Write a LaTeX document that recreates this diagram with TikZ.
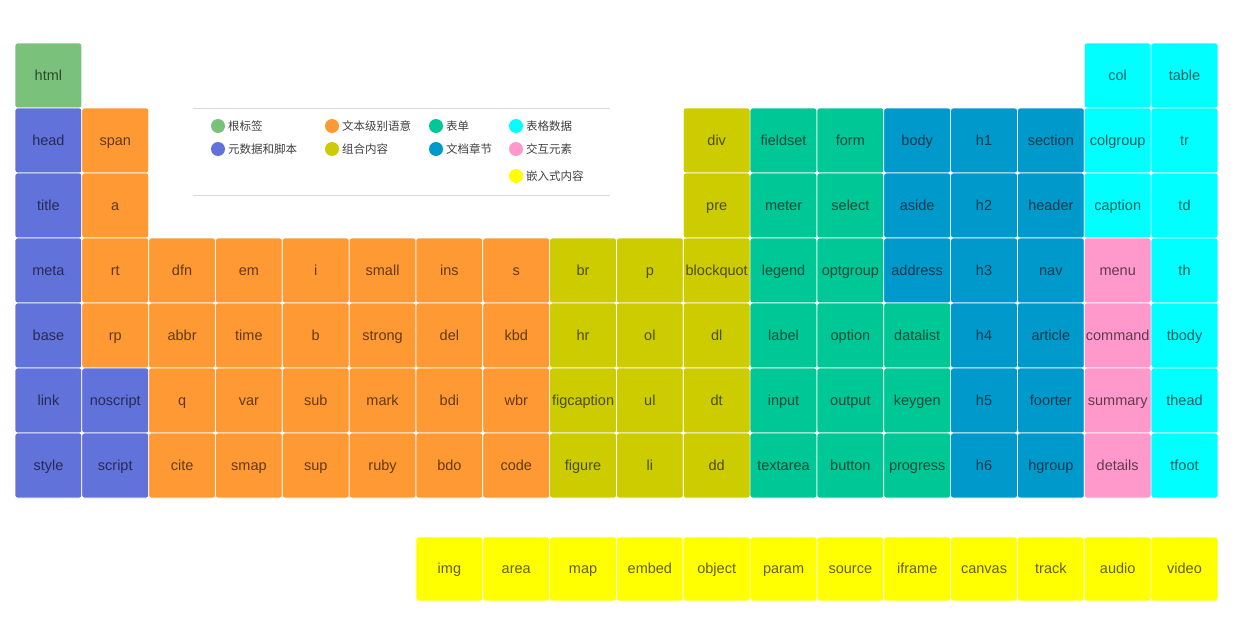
\documentclass[tikz,border=0pt]{standalone}
\usepackage{fontspec}
\setmainfont{Liberation Sans}
\newfontfamily\cjk{Noto Sans CJK SC}
\definecolor{cRoot}{HTML}{7AC27B}
\definecolor{cMeta}{HTML}{6272DB}
\definecolor{cText}{HTML}{FF9933}
\definecolor{cGroup}{HTML}{CCCC00}
\definecolor{cForm}{HTML}{00C796}
\definecolor{cSect}{HTML}{0099CC}
\definecolor{cTable}{HTML}{00FFFF}
\definecolor{cInter}{HTML}{FF99CC}
\definecolor{cEmbed}{HTML}{FFFF00}
\begin{document}
\begin{tikzpicture}[x=1pt,y=-1pt,
  cell/.style={draw=white, line width=0.7pt, rounded corners=2.5pt,
    minimum width=66.83pt, minimum height=65pt, inner sep=0pt,
    text height=11.5pt, text depth=2pt,
    font=\fontsize{14.5}{16}\selectfont, text=black, text opacity=0.62},
  legdot/.style={circle, minimum size=14pt, inner sep=0pt},
  legtext/.style={anchor=west, inner sep=0pt, font=\cjk\fontsize{11.5}{13}\selectfont, text=black!75},
  legline/.style={draw=black!15, line width=0.6pt}]
\useasboundingbox (0,0) rectangle (1259,640);
% main grid: column/row/label/colour
\foreach \c/\r/\t/\k in {
  0/0/html/cRoot, 16/0/col/cTable, 17/0/table/cTable,
  0/1/head/cMeta, 1/1/span/cText, 10/1/div/cGroup, 11/1/fieldset/cForm, 12/1/form/cForm, 13/1/body/cSect, 14/1/h1/cSect, 15/1/section/cSect, 16/1/colgroup/cTable, 17/1/tr/cTable,
  0/2/title/cMeta, 1/2/a/cText, 10/2/pre/cGroup, 11/2/meter/cForm, 12/2/select/cForm, 13/2/aside/cSect, 14/2/h2/cSect, 15/2/header/cSect, 16/2/caption/cTable, 17/2/td/cTable,
  0/3/meta/cMeta, 1/3/rt/cText, 2/3/dfn/cText, 3/3/em/cText, 4/3/i/cText, 5/3/small/cText, 6/3/ins/cText, 7/3/s/cText, 8/3/br/cGroup, 9/3/p/cGroup, 10/3/blockquot/cGroup, 11/3/legend/cForm, 12/3/optgroup/cForm, 13/3/address/cSect, 14/3/h3/cSect, 15/3/nav/cSect, 16/3/menu/cInter, 17/3/th/cTable,
  0/4/base/cMeta, 1/4/rp/cText, 2/4/abbr/cText, 3/4/time/cText, 4/4/b/cText, 5/4/strong/cText, 6/4/del/cText, 7/4/kbd/cText, 8/4/hr/cGroup, 9/4/ol/cGroup, 10/4/dl/cGroup, 11/4/label/cForm, 12/4/option/cForm, 13/4/datalist/cForm, 14/4/h4/cSect, 15/4/article/cSect, 16/4/command/cInter, 17/4/tbody/cTable,
  0/5/link/cMeta, 1/5/noscript/cMeta, 2/5/q/cText, 3/5/var/cText, 4/5/sub/cText, 5/5/mark/cText, 6/5/bdi/cText, 7/5/wbr/cText, 8/5/figcaption/cGroup, 9/5/ul/cGroup, 10/5/dt/cGroup, 11/5/input/cForm, 12/5/output/cForm, 13/5/keygen/cForm, 14/5/h5/cSect, 15/5/foorter/cSect, 16/5/summary/cInter, 17/5/thead/cTable,
  0/6/style/cMeta, 1/6/script/cMeta, 2/6/cite/cText, 3/6/smap/cText, 4/6/sup/cText, 5/6/ruby/cText, 6/6/bdo/cText, 7/6/code/cText, 8/6/figure/cGroup, 9/6/li/cGroup, 10/6/dd/cGroup, 11/6/textarea/cForm, 12/6/button/cForm, 13/6/progress/cForm, 14/6/h6/cSect, 15/6/hgroup/cSect, 16/6/details/cInter, 17/6/tfoot/cTable}
  \node[cell, fill=\k] (n-\t) at ({15+66.83*(\c+0.5)},{43+65*(\r+0.5)}) {\t};
% embedded row
\foreach \c/\t in {6/img, 7/area, 8/map, 9/embed, 10/object, 11/param, 12/source, 13/iframe, 14/canvas, 15/track, 16/audio, 17/video}
  \node[cell, fill=cEmbed, minimum height=64pt] (n-\t) at ({15+66.83*(\c+0.5)},569) {\t};
% legend
\coordinate (lt1) at (193,108); \coordinate (lt2) at (610,108);
\coordinate (lb1) at (193,195); \coordinate (lb2) at (610,195);
\draw[legline] (lt1) -- (lt2);
\draw[legline] (lb1) -- (lb2);
\foreach \x/\y/\k/\t/\n in {
  218/126/cRoot/根标签/l1, 332/126/cText/文本级别语意/l2, 436/126/cForm/表单/l3, 516/126/cTable/表格数据/l4,
  218/149/cMeta/元数据和脚本/l5, 332/149/cGroup/组合内容/l6, 436/149/cSect/文档章节/l7, 516/149/cInter/交互元素/l8,
  516/176/cEmbed/嵌入式内容/l9}
{
  \node[legdot, fill=\k] (\n-dot) at (\x,\y) {};
  \node[legtext] (\n-txt) at (\x+10,\y) {\t};
}
\end{tikzpicture}
\end{document}
